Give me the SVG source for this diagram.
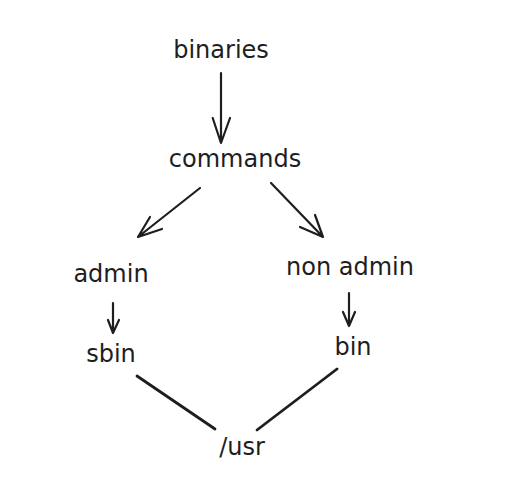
<svg xmlns="http://www.w3.org/2000/svg" width="516" height="488" viewBox="0 0 516 488">
<style>
text{font-family:"DejaVu Sans","Liberation Sans",sans-serif;font-size:24px;fill:#1e1e1e;text-anchor:middle}
.c{stroke:#1e1e1e;stroke-width:2.2;fill:none;stroke-linecap:round;stroke-linejoin:round}
.l{stroke-width:2.8}
</style>
<rect width="516" height="488" fill="#ffffff"/>
<g id="binaries"><text x="221" y="58">binaries</text></g>
<g id="commands"><text x="235" y="167">commands</text></g>
<g id="admin"><text x="111" y="282">admin</text></g>
<g id="nonadmin"><text x="350" y="275">non admin</text></g>
<g id="sbin"><text x="111" y="362">sbin</text></g>
<g id="bin"><text x="353" y="355">bin</text></g>
<g id="usr"><text x="242" y="455">/usr</text></g>
<g id="connectors">
<path class="c" d="M221 73 L221 143 M212.7 118 L221 143 L230 118"/>
<path class="c" d="M200 188 L138 237 M150 217 L138 237 L162 229"/>
<path class="c" d="M271 183 L323 237 M315 215 L323 237 L300 227"/>
<path class="c" d="M113 303 L113 333 M108 320 L113 333 L119 320"/>
<path class="c" d="M349 293 L349 326 M343 312 L349 326 L355 312"/>
<path class="c l" d="M137 376 L215 429"/>
<path class="c l" d="M337 369 L257 430"/>
</g>
</svg>
